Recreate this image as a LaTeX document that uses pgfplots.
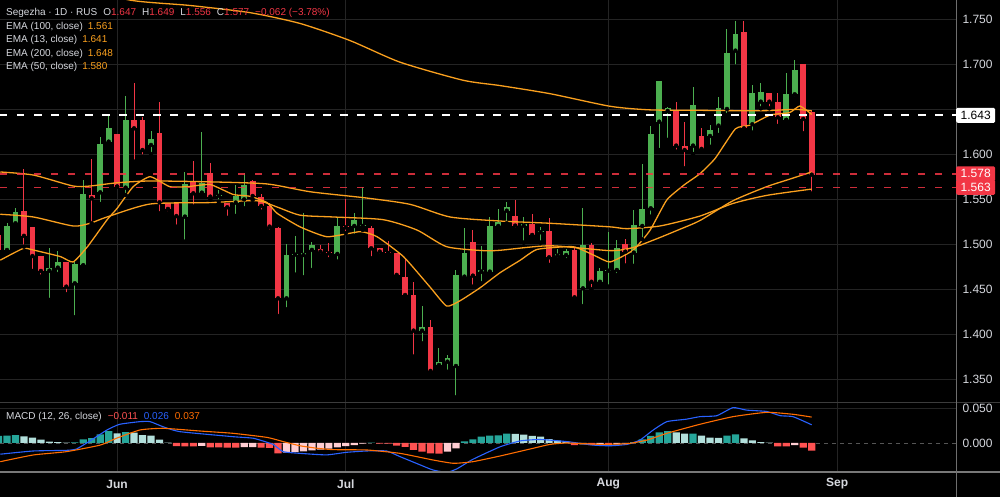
\documentclass[border=0pt]{standalone}
\usepackage{fontspec}
\setmainfont{Liberation Sans}
\usepackage{pgfplots}
\usepackage{pgfplotstable}
\pgfplotsset{compat=1.18}
\definecolor{cg}{RGB}{76,175,80}
\definecolor{cr}{RGB}{242,54,69}
\definecolor{ema}{RGB}{250,160,30}
\definecolor{gridc}{RGB}{36,36,36}
\definecolor{txt}{RGB}{214,216,222}
\definecolor{hd}{RGB}{38,166,154}
\definecolor{hl}{RGB}{178,223,219}
\definecolor{hr}{RGB}{255,82,82}
\definecolor{hp}{RGB}{255,205,210}
\definecolor{mblue}{RGB}{41,98,255}
\definecolor{morange}{RGB}{255,109,0}

\pgfplotstableread{
k o h l c
-95 1.4933 1.523 1.490 1.520
-94 1.523 1.5396 1.521 1.536
-90 1.4704 1.495 1.4378 1.4729
-89 1.4737 1.4926 1.4666 1.4804
-87 1.4563 1.4804 1.4185 1.4778
-86 1.4763 1.571 1.476 1.5555
-84 1.5574 1.6192 1.5444 1.6111
-83 1.6137 1.6422 1.6118 1.6285
-81 1.5626 1.6644 1.5544 1.6378
-78 1.610 1.6255 1.600 1.6166
-74 1.5304 1.580 1.5026 1.567
-72 1.557 1.624 1.5544 1.5681
-70 1.5535 1.560 1.547 1.5547
-68 1.546 1.5656 1.5311 1.5533
-67 1.5496 1.5785 1.5396 1.5656
-62 1.4396 1.500 1.4274 1.4878
-61 1.4882 1.509 1.466 1.4894
-60 1.4878 1.534 1.463 1.4904
-59 1.4934 1.5026 1.4711 1.4989
-56 1.4889 1.5304 1.4804 1.520
-54 1.520 1.5348 1.509 1.5267
-53 1.5200 1.563 1.5156 1.5215
-46 1.4037 1.431 1.3896 1.4081
-44 1.3655 1.384 1.363 1.3692
-43 1.3692 1.3767 1.358 1.373
-42 1.3644 1.471 1.3296 1.4655
-41 1.4637 1.5174 1.4607 1.4904
-39 1.4693 1.4978 1.4563 1.4710
-38 1.4693 1.5304 1.4674 1.520
-37 1.520 1.5385 1.5185 1.5248
-36 1.537 1.547 1.523 1.5407
-34 1.5204 1.530 1.5015 1.5222
-32 1.5130 1.519 1.5015 1.5144
-30 1.4870 1.4944 1.4822 1.4885
-29 1.4877 1.494 1.4822 1.4926
-27 1.4507 1.5396 1.431 1.4989
-25 1.458 1.473 1.4555 1.470
-24 1.4703 1.5137 1.4526 1.4715
-23 1.4711 1.5044 1.4655 1.495
-21 1.4904 1.5378 1.4756 1.5211
-20 1.520 1.5889 1.5052 1.5389
-19 1.5396 1.6311 1.5303 1.6218
-18 1.6359 1.6811 1.6044 1.6811
-17 1.6478 1.6526 1.6156 1.6515
-14 1.6093 1.6748 1.600 1.6544
-12 1.620 1.632 1.608 1.6267
-11 1.6315 1.6637 1.621 1.6507
-10 1.650 1.7385 1.6433 1.7126
-9 1.7148 1.748 1.697 1.7333
-7 1.633 1.6767 1.6237 1.6674
-6 1.6581 1.6793 1.6507 1.6693
-3 1.6378 1.6904 1.6378 1.6663
-2 1.6663 1.7044 1.6618 1.6933
}\greentab

\pgfplotstableread{
k o h l c
-96 1.510 1.515 1.490 1.4933
-93 1.537 1.583 1.497 1.509
-92 1.519 1.519 1.470 1.4866
-91 1.487 1.487 1.4637 1.470
-88 1.4804 1.4804 1.444 1.4526
-85 1.554 1.5944 1.523 1.5507
-82 1.6222 1.6222 1.5637 1.5637
-80 1.6378 1.6792 1.5915 1.6285
-79 1.6378 1.6415 1.597 1.6044
-77 1.623 1.658 1.534 1.5463
-76 1.5452 1.5452 1.534 1.5389
-75 1.547 1.547 1.5192 1.531
-73 1.5692 1.5922 1.5415 1.5563
-71 1.5785 1.5904 1.549 1.5526
-69 1.546 1.546 1.529 1.5408
-66 1.570 1.571 1.549 1.5533
-65 1.5526 1.556 1.536 1.5422
-64 1.5422 1.545 1.5137 1.5193
-63 1.5174 1.519 1.420 1.4396
-58 1.4941 1.4989 1.4867 1.4915
-57 1.4908 1.5007 1.483 1.4896
-55 1.5204 1.5496 1.512 1.5185
-52 1.5174 1.520 1.4841 1.4952
-51 1.4952 1.4952 1.4867 1.4915
-50 1.4911 1.5037 1.4895 1.4899
-49 1.4904 1.4904 1.4637 1.4656
-48 1.463 1.484 1.4415 1.4433
-47 1.4433 1.458 1.3748 1.4037
-45 1.4081 1.4155 1.3544 1.3589
-40 1.5022 1.5155 1.4526 1.4648
-35 1.5315 1.5489 1.5156 1.5204
-33 1.5222 1.533 1.507 1.510
-31 1.5148 1.5285 1.4767 1.4852
-28 1.4933 1.4952 1.437 1.4407
-26 1.4989 1.5015 1.4496 1.458
-22 1.4999 1.506 1.476 1.4915
-16 1.6489 1.658 1.6026 1.6093
-15 1.6093 1.636 1.584 1.6044
-13 1.620 1.6285 1.6026 1.6056
-8 1.7352 1.748 1.6267 1.6285
-5 1.6674 1.6674 1.6507 1.6581
-4 1.6581 1.6674 1.6311 1.6407
-1 1.6996 1.6996 1.623 1.6389
0 1.647 1.649 1.556 1.577
}\redtab

\pgfplotstableread{
k v
-96 0.0100
-95 0.0105
-94 0.0114
-87 0.0008
-86 0.0052
-85 0.0071
-84 0.0124
-83 0.0171
-81 0.0157
-52 0.0005
-41 0.0024
-40 0.0050
-39 0.0090
-38 0.0105
-37 0.0110
-36 0.0133
-21 0.0014
-20 0.0050
-19 0.0100
-18 0.0152
-17 0.0171
-14 0.0135
-10 0.0105
-9 0.0124
}\hD

\pgfplotstableread{
k v
-93 0.0095
-92 0.0076
-91 0.0048
-90 0.0019
-89 0.0014
-88 0.0005
-82 0.0138
-80 0.0148
-79 0.0114
-78 0.0105
-77 0.0048
-76 0.0005
-35 0.0129
-34 0.0120
-33 0.0100
-32 0.0090
-31 0.0057
-30 0.0033
-29 0.0019
-16 0.0152
-15 0.0133
-13 0.0105
-12 0.0076
-11 0.0072
-8 0.0067
-7 0.0038
-6 0.0014
-5 0.0004
}\hL

\pgfplotstableread{
k v
-75 -0.0045
-74 -0.0048
-73 -0.0048
-71 -0.0062
-70 -0.0062
-69 -0.0067
-68 -0.0067
-65 -0.0067
-64 -0.0071
-63 -0.0148
-51 -0.0008
-50 -0.0010
-49 -0.0038
-48 -0.0057
-47 -0.0100
-46 -0.0124
-45 -0.0148
-44 -0.0152
-28 -0.0029
-26 -0.0030
-24 -0.0035
-4 -0.0048
-3 -0.0048
-1 -0.0067
0 -0.0110
}\hR

\pgfplotstableread{
k v
-72 -0.0040
-67 -0.0060
-66 -0.0060
-62 -0.0138
-61 -0.0129
-60 -0.0119
-59 -0.0105
-58 -0.0095
-57 -0.0081
-56 -0.0062
-55 -0.0043
-54 -0.0029
-53 -0.0010
-43 -0.0124
-42 -0.0076
-27 -0.0020
-25 -0.0028
-23 -0.0020
-22 -0.0008
-2 -0.0030
}\hP

\begin{document}
\begin{tikzpicture}[x=1pt,y=1pt]
\fill[black] (0,0) rectangle (1000,497);
\useasboundingbox (0,0) rectangle (1000,497);

% ---------------- price pane
\begin{axis}[
  at={(0pt,94pt)}, anchor=south west, scale only axis,
  width=956pt, height=403pt,
  xmin=-95.83, xmax=17.04, ymin=1.3233, ymax=1.7711,
  axis line style={draw=none}, major tick length=0pt,
  xtick={-82,-55,-24,3}, xticklabels={}, xmajorgrids,
  ytick={1.35,1.4,1.45,1.5,1.55,1.6,1.65,1.7,1.75},
  yticklabels={1.350,1.400,1.450,1.500,1.550,1.600,,1.700,1.750},
  yticklabel pos=right, ymajorgrids,
  grid style={gridc, line width=0.8pt},
  yticklabel style={txt, font=\fontsize{12}{13}\selectfont, xshift=3pt},
  scaled y ticks=false,
]
% wicks
\addplot[only marks, mark=none, error bars/.cd, y dir=plus, y explicit, error mark=none,
  error bar style={cg, line width=1pt}]
  table[x=k, y=l, y error expr=\thisrow{h}-\thisrow{l}] {\greentab};
\addplot[only marks, mark=none, error bars/.cd, y dir=plus, y explicit, error mark=none,
  error bar style={cr, line width=1pt}]
  table[x=k, y=l, y error expr=\thisrow{h}-\thisrow{l}] {\redtab};
% bodies
\addplot[only marks, mark=none, error bars/.cd, y dir=plus, y explicit, error mark=none,
  error bar style={cg, line width=5.8pt}]
  table[x=k, y=o, y error expr=\thisrow{c}-\thisrow{o}] {\greentab};
\addplot[only marks, mark=none, error bars/.cd, y dir=plus, y explicit, error mark=none,
  error bar style={cr, line width=5.8pt}]
  table[x=k, y=c, y error expr=\thisrow{o}-\thisrow{c}] {\redtab};
% EMA 200
\addplot[ema, line width=1.3pt, smooth, tension=0.4] coordinates {
(-96,1.810) (-88,1.790) (-80.5,1.771) (-73.4,1.765) (-66.3,1.757) (-60.4,1.745)
(-54.5,1.726) (-48.6,1.702) (-41.2,1.682) (-36.8,1.676) (-30.9,1.667) (-23.8,1.653)
(-19.1,1.649) (-13.2,1.6485) (-6.1,1.648) (-2,1.6495) (0,1.648)};
% EMA 100
\addplot[ema, line width=1.3pt, smooth, tension=0.4] coordinates {
(-95.8,1.580) (-91.9,1.5766) (-87.2,1.5644) (-85.2,1.5644) (-82,1.568) (-78.1,1.570)
(-71,1.569) (-64.3,1.5667) (-59.2,1.558) (-52.5,1.551) (-47.4,1.544) (-42.7,1.530)
(-36.8,1.5255) (-30.9,1.523) (-23.8,1.519) (-21.8,1.517) (-17.9,1.520) (-13.2,1.531)
(-9.3,1.545) (-5.3,1.554) (0,1.561)};
% EMA 50
\addplot[ema, line width=1.3pt, smooth, tension=0.4] coordinates {
(-95.8,1.533) (-91.9,1.530) (-87.2,1.520) (-85.2,1.523) (-83.2,1.530) (-78.1,1.5444)
(-71,1.546) (-65.5,1.548) (-63.1,1.541) (-60.4,1.532) (-56.5,1.530) (-50.6,1.527)
(-46.6,1.5155) (-43.1,1.497) (-38.8,1.4926) (-36.8,1.493) (-30.9,1.498) (-23.8,1.4926)
(-21.1,1.496) (-18.5,1.505) (-15.9,1.515) (-13.2,1.526) (-9.3,1.548) (-5.3,1.5637)
(-2.6,1.572) (0,1.580)};
% EMA 13
\addplot[ema, line width=1.3pt, smooth, tension=0.3] coordinates {
(-95.8,1.482) (-93.1,1.495) (-91.9,1.4933) (-88.7,1.486) (-87.2,1.480) (-85.5,1.497)
(-83.2,1.5267) (-82,1.5396) (-80.1,1.5637) (-78.1,1.5748) (-75.8,1.5637) (-73.7,1.5637)
(-71,1.566) (-68.3,1.555) (-66.3,1.553) (-64.3,1.546) (-63.1,1.534) (-60.4,1.519)
(-57.2,1.508) (-53.3,1.5137) (-51.3,1.508) (-48.2,1.486) (-45.1,1.4526) (-43.1,1.431)
(-41.5,1.437) (-39.2,1.451) (-36.8,1.468) (-34.4,1.482) (-32.4,1.494) (-28.2,1.497)
(-25.6,1.487) (-23.8,1.480) (-21.1,1.493) (-19.1,1.515) (-17.1,1.549) (-15,1.566)
(-13.2,1.578) (-11.4,1.595) (-9,1.628) (-7.3,1.632) (-4.9,1.6433) (-2.6,1.646)
(-1.4,1.6533) (0,1.644)};
% price lines
\addplot[white, line width=2pt, dash pattern=on 7.5pt off 9.5pt] coordinates {(-95.83,1.643) (17.04,1.643)};
\addplot[cr, opacity=0.85, line width=1.5pt, dash pattern=on 7pt off 10pt] coordinates {(-95.83,1.578) (17.04,1.578)};
\addplot[cr, opacity=0.85, line width=1.5pt, dash pattern=on 7pt off 10pt] coordinates {(-95.83,1.563) (17.04,1.563)};
\coordinate (pA) at (axis cs:17.04,1.643);
\coordinate (pB) at (axis cs:17.04,1.578);
\coordinate (pC) at (axis cs:17.04,1.563);
\end{axis}

% ---------------- MACD pane
\begin{axis}[
  at={(0pt,25pt)}, anchor=south west, scale only axis,
  width=956pt, height=69pt,
  xmin=-95.83, xmax=17.04, ymin=-0.04143, ymax=0.05714,
  axis line style={draw=none}, major tick length=0pt,
  xtick={-82,-55,-24,3}, xticklabels={Jun,Jul,Aug,Sep}, xmajorgrids,
  xticklabel style={txt, font=\fontsize{12}{13}\selectfont\bfseries, anchor=center, yshift=-12pt},
  ytick={0,0.05}, yticklabels={0.000,0.050}, yticklabel pos=right,
  yticklabel style={txt, font=\fontsize{12}{13}\selectfont, xshift=3pt},
  grid style={gridc, line width=0.8pt},
  scaled y ticks=false,
]
\addplot[gridc, line width=0.8pt] coordinates {(-95.83,0.05) (17.04,0.05)};
\addplot[color={rgb,255:red,85;green,85;blue,85}, line width=0.8pt, dash pattern=on 4pt off 4pt] coordinates {(-95.83,0) (17.04,0)};
\addplot[ybar, bar width=7.2pt, bar shift=0pt, fill=hd, draw=none] table[x=k,y=v] {\hD};
\addplot[ybar, bar width=7.2pt, bar shift=0pt, fill=hl, draw=none] table[x=k,y=v] {\hL};
\addplot[ybar, bar width=7.2pt, bar shift=0pt, fill=hr, draw=none] table[x=k,y=v] {\hR};
\addplot[ybar, bar width=7.2pt, bar shift=0pt, fill=hp, draw=none] table[x=k,y=v] {\hP};
\addplot[mblue, line width=1.1pt, smooth, tension=0.3] coordinates {
(-95.8,-0.016) (-91.9,-0.0114) (-88,-0.0105) (-86.8,-0.0086) (-85.2,0.003) (-83.2,0.0186)
(-81.7,0.0267) (-79.3,0.0305) (-78.1,0.0305) (-76.6,0.0233) (-74.6,0.0162) (-68.3,0.009)
(-65.9,0.0067) (-63.6,-0.002) (-62.4,-0.0124) (-60.4,-0.0148) (-57.3,-0.017) (-54.9,-0.0133)
(-52.5,-0.0114) (-50.2,-0.0114) (-48.6,-0.0195) (-46.2,-0.0314) (-44.7,-0.0386) (-43.1,-0.0419)
(-41.9,-0.037) (-40,-0.0233) (-36.8,-0.0055) (-34.4,0.003) (-32.1,0.005) (-28.9,0.002)
(-25.8,-0.003) (-23.8,-0.004) (-21.8,-0.002) (-20.3,0.004) (-18.7,0.0186) (-17.1,0.0305)
(-14.8,0.034) (-13.2,0.0376) (-11.2,0.039) (-9.3,0.0505) (-7.7,0.047) (-5.3,0.045)
(-3.7,0.039) (-2.2,0.0376) (0,0.026)};
\addplot[morange, line width=1.1pt, smooth, tension=0.3] coordinates {
(-95.8,-0.0267) (-91.9,-0.0171) (-88,-0.0124) (-84,-0.003) (-82.1,0.0067) (-79.3,0.0186)
(-76.6,0.021) (-72.2,0.0171) (-68.3,0.0138) (-64.3,0.008) (-62.4,0.002) (-60.4,-0.004)
(-58.4,-0.0075) (-56.5,-0.0095) (-52.5,-0.010) (-48.6,-0.0148) (-44.7,-0.0243) (-42.3,-0.029)
(-40,-0.0267) (-36.8,-0.0186) (-32.9,-0.0076) (-30.9,-0.002) (-28.9,0.0) (-25,-0.0019)
(-21.8,-0.001) (-19.5,0.004) (-17.1,0.0138) (-13.2,0.0267) (-9.3,0.0376) (-5.3,0.0438)
(-2.2,0.041) (0,0.037)};
\end{axis}

% frame lines
\draw[color={rgb,255:red,60;green,60;blue,60}, line width=1pt] (0,94) -- (1000,94);
\draw[color={rgb,255:red,120;green,120;blue,120}, line width=1.2pt] (0,25) -- (1000,25);
\draw[color={rgb,255:red,110;green,110;blue,110}, line width=1pt] (956,0) -- (956,497);

% price labels
\node[fill=white, rounded corners=1.5pt, text=black, font=\fontsize{12}{13}\selectfont,
  anchor=west, inner xsep=4.5pt, inner ysep=0pt, minimum height=15pt] at (pA) {1.643};
\node[fill=cr, rounded corners=1.5pt, text=white, font=\fontsize{12}{13}\selectfont,
  anchor=west, inner xsep=4.5pt, inner ysep=0pt, minimum height=15pt] at (pB) {1.578};
\node[fill=cr, rounded corners=1.5pt, text=white, font=\fontsize{12}{13}\selectfont,
  anchor=west, inner xsep=4.5pt, inner ysep=0pt, minimum height=15pt] at (pC) {1.563};

% legends
\begin{scope}[font=\fontsize{10}{12}\selectfont]
\node[anchor=base west, inner sep=0pt, text=txt] at (6,481) {Segezha · 1D · RUS\hspace{6pt}O{\color{cr}1.647}\hspace{6pt}H{\color{cr}1.649}\hspace{6pt}L{\color{cr}1.556}\hspace{6pt}C{\color{cr}1.577}\hspace{6pt}{\color{cr}−0.062 (−3.78\%)}};
\node[anchor=base west, inner sep=0pt, text=txt] at (6,467.5) {EMA (100, close)\hspace{5pt}{\color{ema}1.561}};
\node[anchor=base west, inner sep=0pt, text=txt] at (6,454) {EMA (13, close)\hspace{5pt}{\color{ema}1.641}};
\node[anchor=base west, inner sep=0pt, text=txt] at (6,440.7) {EMA (200, close)\hspace{5pt}{\color{ema}1.648}};
\node[anchor=base west, inner sep=0pt, text=txt] at (6,427.5) {EMA (50, close)\hspace{5pt}{\color{ema}1.580}};
\node[anchor=base west, inner sep=0pt, text=txt] at (6,77) {MACD (12, 26, close)\hspace{6pt}{\color{hr}−0.011}\hspace{6pt}{\color{mblue}0.026}\hspace{6pt}{\color{morange}0.037}};
\end{scope}
\end{tikzpicture}
\end{document}
